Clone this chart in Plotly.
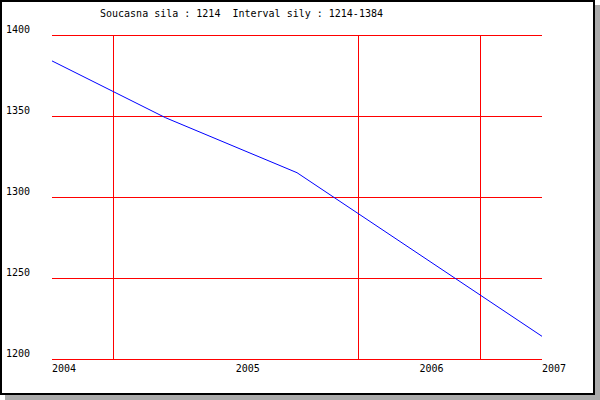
import plotly.graph_objects as go

# Data
x_tick_pos = [0, 3, 6, 8]
x_tick_labels = ["2004", "2005", "2006", "2007"]
x_grid_pos = [1, 5, 7]
x_points = [0, 1.85, 4.0, 8]
y_values = [1384, 1349, 1315, 1214]
y_ticks = [1200, 1250, 1300, 1350, 1400]
title_text = "Soucasna sila : 1214  Interval sily : 1214-1384"

W, H = 600, 400
L, R, T, B = 52, 58, 35, 41
PW, PH = W - L - R, H - T - B

def px(xp):
    return (xp - L) / PW

def py(yp):
    return (H - B - yp) / PH

FONT = "DejaVu Sans Mono"
y_min, y_max = min(y_ticks), max(y_ticks)
half_px_paper = 0.5 / PH

fig = go.Figure()
fig.add_trace(go.Scatter(x=x_points, y=y_values, mode="lines",
                         line=dict(color="#0000ff", width=1),
                         hoverinfo="skip", showlegend=False, cliponaxis=False))

shapes = [
    dict(type="rect", xref="paper", yref="paper", layer="below",
         x0=px(5), x1=px(600), y0=py(5), y1=py(400),
         fillcolor="#aaaaaa", line=dict(width=0)),
    dict(type="rect", xref="paper", yref="paper", layer="below",
         x0=px(1), x1=px(594), y0=py(1), y1=py(394),
         fillcolor="white", line=dict(color="black", width=2)),
]
# grid lines at the axis ends (plotly drops grid lines at range ends)
for v in (y_min, y_max):
    frac = (v - y_min) / (y_max - y_min) - half_px_paper
    shapes.append(dict(type="line", xref="paper", yref="paper", layer="below",
                       x0=0, x1=1, y0=frac, y1=frac,
                       line=dict(color="#ff0000", width=1)))

fig.update_layout(
    template="none",
    width=W, height=H,
    margin=dict(l=L, r=R, t=T, b=B, autoexpand=False),
    paper_bgcolor="white",
    plot_bgcolor="rgba(0,0,0,0)",
    showlegend=False,
    title=dict(text=title_text, xref="container", yref="container",
               x=100 / W, xanchor="left", y=1 - 13 / H, yanchor="middle",
               font=dict(family=FONT, size=10, color="black")),
    xaxis=dict(range=[0, 8], tickmode="array", tickvals=x_tick_pos,
               ticktext=x_tick_labels, showgrid=False, zeroline=False,
               showline=False, ticks="", ticklabelshift=12,
               ticklabelstandoff=2, automargin=False,
               tickfont=dict(family=FONT, size=10, color="black"),
               minor=dict(tickmode="array", tickvals=x_grid_pos, showgrid=True,
                          gridcolor="#ff0000", gridwidth=1, ticks="")),
    yaxis=dict(range=[y_min, y_max], tickmode="array", tickvals=y_ticks,
               showgrid=True, gridcolor="#ff0000", gridwidth=1,
               zeroline=False, showline=False, ticks="", automargin=False,
               ticklabelshift=-6, ticklabelstandoff=21,
               tickfont=dict(family=FONT, size=10, color="black")),
    shapes=shapes,
)

fig.write_html("out.html",
               config={"displayModeBar": False},
               post_script="document.body.style.margin='0';"
                           "document.body.style.overflow='hidden';")
